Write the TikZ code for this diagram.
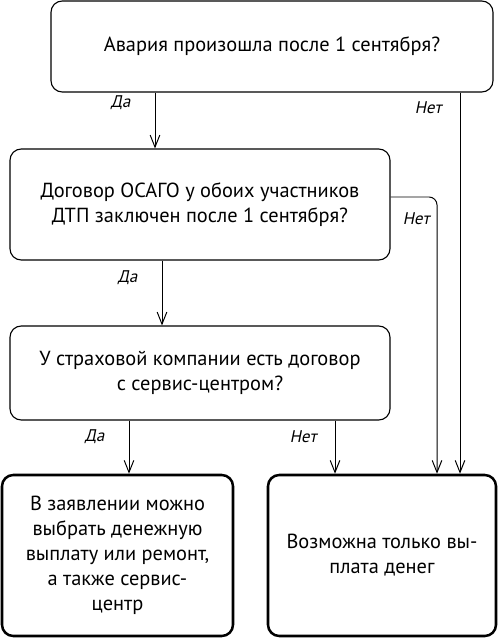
\documentclass[tikz,border=0pt]{standalone}
\usepackage{fontspec}
\setmainfont{PT Sans}
\newfontfamily\lblfont[FakeSlant=0.2]{PT Sans}
\usetikzlibrary{arrows.meta,positioning}

\begin{document}
\begin{tikzpicture}[font=\fontsize{14.5}{17.8}\selectfont]
      \tikzset{quest/.style={rectangle,draw,line width=0.8pt,rounded corners=1.6ex,align=center,inner sep=0pt}}
      \tikzset{answ/.style={rectangle,draw,line width=1.8pt,rounded corners=1.6ex,align=center,inner sep=0pt,minimum height=4.025cm}}
      \tikzset{arr/.style={draw,line width=0.7pt,-{Straight Barb[length=3mm,width=2.4mm]}}}
      \tikzset{lbl/.style={font=\lblfont\fontsize{12}{14}\selectfont,inner sep=0pt}}

      \useasboundingbox (0,0) rectangle (12.5,-15.975);

      \node[quest,minimum width=11.05cm,minimum height=2.275cm] (avaria) at (6.8,-1.1625)
        {Авария произошла после 1 сентября?};
      \node[quest,minimum width=9.5cm,minimum height=2.775cm] (osago) at (5.0,-5.1125)
        {Договор ОСАГО у обоих участников\\ДТП заключен после 1 сентября?};
      \node[quest,minimum width=9.5cm,minimum height=2.35cm] (servis) at (5.0,-9.325)
        {У страховой компании есть договор\\с сервис-центром?};
      \node[answ,minimum width=5.775cm] (vybor) at (2.9375,-13.8875)
        {В заявлении можно\\выбрать денежную\\выплату или ремонт,\\а также сервис-\\центр};
      \node[answ,minimum width=5.7cm] (dengi) at (9.55,-13.8875)
        {Возможна только вы-\\плата денег};

      \coordinate (x1) at (3.875,0);
      \coordinate (x2) at (11.5,0);
      \coordinate (x3) at (4.05,0);
      \coordinate (x4) at (10.925,0);
      \coordinate (x5) at (3.225,0);
      \coordinate (x6) at (8.375,0);
      \coordinate (y4) at (0,-4.925);

      \draw[arr] (avaria.south -| x1) -- node[lbl,pos=0.19,left=0.6cm] (da1) {Да} (osago.north -| x1);
      \draw[arr] (avaria.south -| x2) -- node[lbl,pos=0.04,left=0.45cm] (net1) {Нет} (dengi.north -| x2);
      \draw[arr] (osago.south -| x3) -- node[lbl,pos=0.26,left=0.6cm] (da2) {Да} (servis.north -| x3);
      \draw[arr,rounded corners=0.2cm] (osago.east |- y4) -| node[lbl,pos=0.54,left=0.175cm] (net2) {Нет} (dengi.north -| x4);
      \draw[arr] (servis.south -| x5) -- node[lbl,pos=0.31,left=0.6cm] (da3) {Да} (vybor.north -| x5);
      \draw[arr] (servis.south -| x6) -- node[lbl,pos=0.31,left=0.45cm] (net3) {Нет} (dengi.north -| x6);
    \end{tikzpicture}
\end{document}
